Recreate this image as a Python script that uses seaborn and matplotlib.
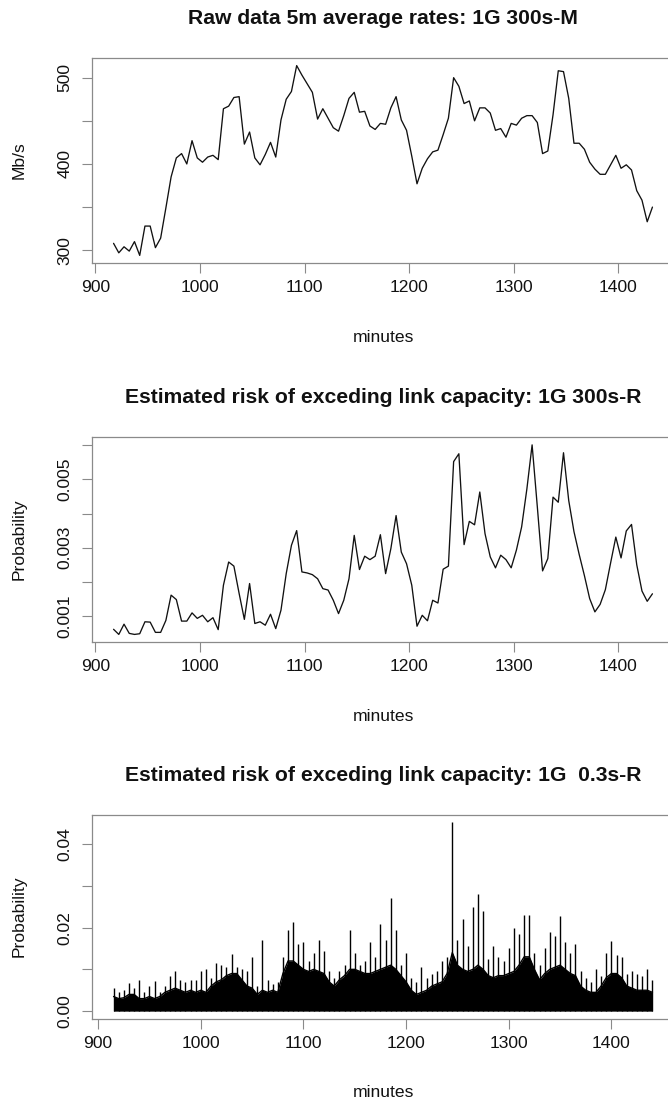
import numpy as np
import pandas as pd
import matplotlib
matplotlib.use("Agg")
import matplotlib.pyplot as plt
import seaborn as sns

sns.set_theme(style="white")
plt.rcParams["font.family"] = ["Liberation Sans", "DejaVu Sans"]

# ---------------- data ----------------
# panel 1: 5-minute average rates (Mb/s), one value every 5 minutes
p1_start, p1_step = 917.5, 5
rate_mbps = [308, 297, 304, 299, 310, 294, 328, 328, 303, 314,
             349, 385, 407, 412, 400, 427, 407, 402, 408, 410,
             405, 464, 467, 477, 478, 423, 437, 407, 399, 411,
             425, 408, 451, 475, 484, 514, 503, 493, 483, 452,
             464, 453, 442, 438, 456, 476, 483, 460, 461, 444,
             440, 447, 446, 465, 478, 451, 439, 409, 377, 395,
             406, 414, 416, 434, 453, 500, 490, 470, 473, 450,
             465, 465, 459, 439, 441, 431, 447, 445, 453, 456,
             456, 448, 412, 415, 457, 508, 507, 476, 424, 424,
             417, 402, 394, 388, 388, 399, 410, 395, 399, 393,
             369, 358, 333, 350]

# panel 2: estimated risk, 300 s resolution (units of 1e-3)
risk300_milli = [0.61, 0.46, 0.76, 0.49, 0.46, 0.48, 0.83, 0.82, 0.52, 0.52,
                 0.87, 1.61, 1.48, 0.85, 0.85, 1.09, 0.93, 1.02, 0.83, 0.95,
                 0.60, 1.90, 2.58, 2.46, 1.66, 0.90, 1.95, 0.78, 0.83, 0.73,
                 1.05, 0.63, 1.17, 2.24, 3.07, 3.50, 2.29, 2.26, 2.21, 2.09,
                 1.80, 1.76, 1.46, 1.07, 1.46, 2.09, 3.36, 2.36, 2.75, 2.65,
                 2.75, 3.38, 2.24, 2.97, 3.94, 2.87, 2.53, 1.90, 0.70, 1.02,
                 0.86, 1.46, 1.38, 2.37, 2.46, 5.52, 5.75, 3.09, 3.77, 3.67,
                 4.63, 3.41, 2.73, 2.41, 2.78, 2.65, 2.41, 2.93, 3.61, 4.72,
                 6.01, 4.19, 2.32, 2.68, 4.48, 4.33, 5.78, 4.38, 3.47, 2.80,
                 2.18, 1.51, 1.12, 1.34, 1.77, 2.55, 3.31, 2.70, 3.49, 3.68,
                 2.50, 1.73, 1.43, 1.65]

# panel 3: 0.3 s resolution risk, summarised per 5-minute bin (units of 1e-2)
p3_start, p3_step = 915, 5
risk03_peak = [0.55, 0.45, 0.50, 0.68, 0.55, 0.74, 0.45, 0.60, 0.72, 0.45,
               0.60, 0.85, 0.97, 0.75, 0.70, 0.75, 0.75, 0.95, 1.01, 0.80,
               1.15, 1.10, 1.05, 1.37, 1.05, 1.00, 0.95, 1.30, 0.60, 1.70,
               0.75, 0.65, 0.70, 1.30, 1.94, 2.14, 1.60, 1.65, 1.20, 1.40,
               1.70, 1.45, 0.95, 0.80, 0.95, 1.10, 1.95, 1.40, 1.10, 1.20,
               1.65, 1.30, 2.08, 1.70, 2.70, 1.95, 1.10, 1.40, 0.80, 0.70,
               1.05, 0.80, 0.90, 0.95, 1.20, 1.30, 4.52, 1.70, 2.20, 1.55,
               2.50, 2.81, 2.40, 1.25, 1.55, 1.30, 1.20, 1.50, 2.00, 1.85,
               2.30, 2.30, 1.40, 1.10, 1.50, 1.90, 1.80, 2.28, 1.65, 1.40,
               1.60, 0.95, 0.80, 0.70, 1.00, 0.85, 1.40, 1.68, 1.35, 1.30,
               0.90, 0.95, 0.90, 0.85, 1.00, 0.75]
risk03_band = [0.35, 0.30, 0.32, 0.40, 0.40, 0.30, 0.30, 0.35, 0.30, 0.35,
               0.45, 0.50, 0.55, 0.50, 0.45, 0.50, 0.45, 0.50, 0.45, 0.60,
               0.70, 0.75, 0.85, 0.90, 0.90, 0.75, 0.60, 0.55, 0.40, 0.50,
               0.45, 0.50, 0.45, 0.90, 1.20, 1.20, 1.10, 1.00, 0.95, 1.00,
               0.95, 0.90, 0.70, 0.60, 0.75, 0.85, 1.00, 1.00, 0.95, 0.90,
               0.90, 0.95, 1.00, 1.05, 1.10, 1.00, 0.85, 0.70, 0.50, 0.40,
               0.45, 0.50, 0.60, 0.65, 0.70, 0.90, 1.40, 1.10, 1.00, 0.95,
               1.00, 1.10, 1.00, 0.85, 0.80, 0.85, 0.85, 0.90, 0.95, 1.10,
               1.30, 1.30, 1.00, 0.75, 0.90, 1.00, 1.05, 1.10, 1.00, 0.90,
               0.85, 0.60, 0.50, 0.45, 0.45, 0.60, 0.80, 0.90, 0.90, 0.80,
               0.60, 0.55, 0.50, 0.50, 0.50, 0.45]

x_ticks = [900, 1000, 1100, 1200, 1300, 1400]
titles = ["Raw data 5m average rates: 1G 300s-M",
          "Estimated risk of exceding link capacity: 1G 300s-R",
          "Estimated risk of exceding link capacity: 1G  0.3s-R"]
ylabels = ["Mb/s", "Probability", "Probability"]
xlabel = "minutes"

# ---------------- layout ----------------
W, H, DPI = 668, 1104, 100
fig = plt.figure(figsize=(W / DPI, H / DPI), dpi=DPI)
fig.patch.set_facecolor("white")

FRAME = "#8a8a8a"
LINE = "#111111"
LABEL_FS = 12.6
TITLE_FS = 15.2


def add_axes(top, bottom, left=92, right=674):
    return fig.add_axes([left / W, 1 - bottom / H, (right - left) / W, (bottom - top) / H])


def rlim(vals):
    lo, hi = float(np.min(vals)), float(np.max(vals))
    r = hi - lo
    return lo - 0.04 * r, hi + 0.04 * r


def style(ax, title, ylabel, yticks, ylabels_txt):
    ax.set_facecolor("white")
    for s in ax.spines.values():
        s.set_color(FRAME)
        s.set_linewidth(0.9)
    ax.set_xticks(x_ticks)
    ax.set_xticklabels([str(t) for t in x_ticks])
    ax.set_yticks(yticks)
    ax.set_yticklabels(ylabels_txt)
    ax.tick_params(axis="both", direction="out", length=7.5, width=0.8,
                   color=FRAME, labelsize=LABEL_FS, labelcolor="#111111",
                   bottom=True, left=True)
    ax.tick_params(axis="x", pad=4.6)
    ax.tick_params(axis="y", pad=6.5, labelrotation=90)
    for lab in ax.get_yticklabels():
        lab.set_va("center")
    ax.set_title(title, fontsize=TITLE_FS, fontweight="bold", pad=24.5, color="#111111")
    ax.set_xlabel(xlabel, fontsize=LABEL_FS, color="#111111")
    ax.set_ylabel(ylabel, fontsize=LABEL_FS, color="#111111")
    ax.xaxis.set_label_coords(0.5, -0.325)
    ax.yaxis.set_label_coords(-0.112, 0.5)
    ax.grid(False)


# ---- panel 1 ----
ax1 = add_axes(58, 263)
m1 = p1_start + p1_step * np.arange(len(rate_mbps))
df1 = pd.DataFrame({"minutes": m1, "rate": rate_mbps})
sns.lineplot(data=df1, x="minutes", y="rate", ax=ax1, color=LINE, linewidth=0.95)
ax1.set_xlim(*rlim(m1))
ax1.set_ylim(*rlim(rate_mbps))
style(ax1, titles[0], ylabels[0], [300, 350, 400, 450, 500],
      ["300", "", "400", "", "500"])

# ---- panel 2 ----
ax2 = add_axes(437.3, 642)
m2 = p1_start + p1_step * np.arange(len(risk300_milli))
p2 = np.array(risk300_milli) / 1000.0
df2 = pd.DataFrame({"minutes": m2, "prob": p2})
sns.lineplot(data=df2, x="minutes", y="prob", ax=ax2, color=LINE, linewidth=0.95)
ax2.set_xlim(*rlim(m2))
ax2.set_ylim(*rlim(p2))
style(ax2, titles[1], ylabels[1],
      [0.001, 0.002, 0.003, 0.004, 0.005, 0.006],
      ["0.001", "", "0.003", "", "0.005", ""])

# ---- panel 3 ----
ax3 = add_axes(814.7, 1018.7)
m3 = p3_start + p3_step * np.arange(len(risk03_peak))
peak = np.array(risk03_peak) / 100.0
band = np.array(risk03_band) / 100.0
df3 = pd.DataFrame({"minutes": m3, "peak": peak, "band": band})
ax3.fill_between(df3["minutes"], 0, df3["band"], color="black", linewidth=0)
ax3.vlines(df3["minutes"], 0, df3["peak"], color="black", linewidth=1.0)
sns.lineplot(data=df3, x="minutes", y="band", ax=ax3, color="black", linewidth=1.0)
ax3.set_xlim(*rlim(m3))
ax3.set_ylim(*rlim(np.concatenate([[0.0], peak])))
style(ax3, titles[2], ylabels[2], [0.00, 0.01, 0.02, 0.03, 0.04],
      ["0.00", "", "0.02", "", "0.04"])

fig.savefig("out.png", dpi=DPI, facecolor="white")
